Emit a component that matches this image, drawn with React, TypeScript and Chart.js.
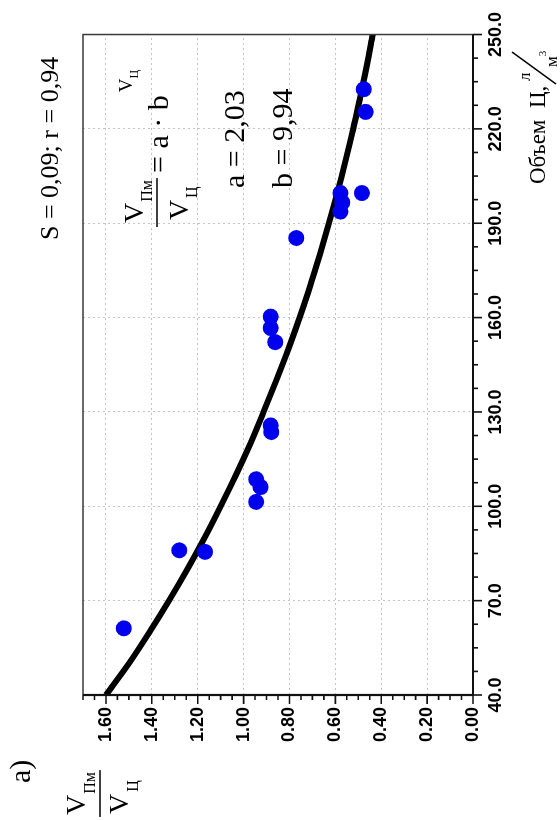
import React, { useEffect, useRef } from 'react';
import { Chart, registerables } from 'chart.js';

Chart.register(...registerables);

// Measured points: cement volume (л/м³) vs ratio V_Пм / V_Ц
const volume = [61.2, 85.5, 86.0, 101.4, 106.1, 108.6, 123.6, 125.7, 152.2, 156.7, 160.3, 185.3, 193.7, 196.6, 199.6, 199.6, 225.4, 232.6];
const ratio = [1.522, 1.168, 1.28, 0.945, 0.926, 0.945, 0.879, 0.882, 0.862, 0.882, 0.882, 0.77, 0.578, 0.57, 0.578, 0.484, 0.468, 0.476];

// Regression curve
const curveVolume = [40, 50, 60, 70, 80, 90, 100, 110, 120, 130, 140, 150, 160, 170, 180, 190, 200, 210, 220, 230, 240, 250];
const curveRatio = [1.6, 1.5, 1.41, 1.325, 1.245, 1.17, 1.1, 1.033, 0.97, 0.913, 0.858, 0.805, 0.756, 0.71, 0.668, 0.628, 0.59, 0.555, 0.522, 0.492, 0.463, 0.437];

// Axis settings
const xMin = 40;
const xMax = 250;
const xMajor = 30;
const xMinor = 7.5;
const yMin = 0;
const yMax = 1.7;
const yMajor = 0.2;
const yMinor = 0.05;
const yLabelMax = 1.6;

const SERIF = '"Liberation Serif", "Times New Roman", serif';
const SANS = '"Liberation Sans", Arial, sans-serif';

const isMajorX = (v: number) => Math.abs((v - xMin) / xMajor - Math.round((v - xMin) / xMajor)) < 1e-6;
const isMajorY = (v: number) => Math.abs(v / yMajor - Math.round(v / yMajor)) < 1e-6;

function txt(ctx: CanvasRenderingContext2D, s: string, x: number, y: number, size: number, family = SERIF, weight = 'normal') {
  ctx.font = `${weight} ${size}px ${family}`;
  ctx.textAlign = 'left';
  ctx.textBaseline = 'alphabetic';
  ctx.fillText(s, x, y);
  return x + ctx.measureText(s).width;
}

const decorPlugin = {
  id: 'decor',
  afterDraw(chart: any) {
    const { ctx, chartArea: a, scales } = chart;
    const xs = scales.x;
    const ys = scales.y;
    ctx.save();
    // frame (top and right)
    ctx.strokeStyle = '#3a3a3a';
    ctx.lineWidth = 1.5;
    ctx.beginPath();
    ctx.moveTo(a.left, a.top);
    ctx.lineTo(a.right, a.top);
    ctx.lineTo(a.right, a.bottom);
    ctx.stroke();
    // axes
    ctx.strokeStyle = '#111';
    ctx.lineWidth = 2.2;
    ctx.beginPath();
    ctx.moveTo(a.left, a.top);
    ctx.lineTo(a.left, a.bottom);
    ctx.lineTo(a.right, a.bottom);
    ctx.stroke();
    // tick marks
    ctx.lineWidth = 1.6;
    ctx.beginPath();
    xs.ticks.forEach((t: any) => {
      const p = xs.getPixelForValue(t.value);
      const len = isMajorX(t.value) ? 9 : 5;
      ctx.moveTo(p, a.bottom);
      ctx.lineTo(p, a.bottom + len);
    });
    ys.ticks.forEach((t: any) => {
      const p = ys.getPixelForValue(t.value);
      const len = isMajorY(t.value) ? 9 : 5;
      ctx.moveTo(a.left, p);
      ctx.lineTo(a.left - len, p);
    });
    ctx.stroke();

    ctx.fillStyle = '#000';
    ctx.strokeStyle = '#000';
    ctx.lineWidth = 1.4;

    // statistics
    txt(ctx, 'S = 0,09; r = 0,94', 580, 58, 26);

    // formula inside plot
    const nEnd = txt(ctx, 'V', 597, 143, 28);
    const nsEnd = txt(ctx, 'Пм', nEnd + 1, 152, 16);
    txt(ctx, 'V', 600, 188, 28);
    txt(ctx, 'Ц', 622, 197, 16);
    ctx.beginPath();
    ctx.moveTo(593, 157);
    ctx.lineTo(nsEnd + 2, 157);
    ctx.stroke();
    const eqEnd = txt(ctx, '= a · b', 647, 168, 30);
    const supEnd = txt(ctx, 'V', eqEnd + 3, 132, 19);
    txt(ctx, 'Ц', supEnd, 138, 12);

    txt(ctx, 'a = 2,03', 632, 244, 30);
    txt(ctx, 'b = 9,94', 632, 292, 30);

    // panel letter and y title
    txt(ctx, 'a)', 37, 30, 30);
    const tEnd = txt(ctx, 'V', 5, 85, 28);
    const tsEnd = txt(ctx, 'Пм', tEnd + 1, 95, 16);
    ctx.beginPath();
    ctx.moveTo(3, 100);
    ctx.lineTo(tsEnd + 2, 100);
    ctx.stroke();
    const bEnd = txt(ctx, 'V', 6, 128, 28);
    txt(ctx, 'Ц', bEnd + 2, 138, 16);

    // x title
    txt(ctx, 'Объем  Ц,', 636, 545, 23);
    txt(ctx, 'л', 739, 530, 17);
    ctx.beginPath();
    ctx.moveTo(736, 556);
    ctx.lineTo(768, 512);
    ctx.stroke();
    const mEnd = txt(ctx, 'м', 753, 557, 17);
    txt(ctx, '3', mEnd, 546, 11);
    ctx.restore();
  },
};

export default function App() {
  const ref = useRef<HTMLCanvasElement | null>(null);
  useEffect(() => {
    if (!ref.current) return;
    const chart = new Chart(ref.current, {
      type: 'scatter',
      data: {
        datasets: [
          {
            label: 'points',
            data: volume.map((v, i) => ({ x: v, y: ratio[i] })),
            backgroundColor: '#0000ee',
            borderColor: '#0000ee',
            pointRadius: 8,
            pointBorderWidth: 0,
            order: 1,
          },
          {
            type: 'line',
            label: 'fit',
            data: curveVolume.map((v, i) => ({ x: v, y: curveRatio[i] })),
            borderColor: '#000',
            borderWidth: 6,
            pointRadius: 0,
            fill: false,
            showLine: true,
            cubicInterpolationMode: 'monotone',
            order: 2,
          } as any,
        ],
      },
      options: {
        responsive: false,
        animation: false,
        layout: { padding: { left: 0, right: 34, top: 83, bottom: 0 } },
        plugins: { legend: { display: false }, tooltip: { enabled: false } },
        scales: {
          x: {
            type: 'linear',
            min: xMin,
            max: xMax,
            afterFit: (s: any) => { s.height = 87; },
            border: { display: false, dash: [2, 3] },
            grid: {
              drawTicks: false,
              lineWidth: 1,
              color: (c: any) => {
                const v = c.tick ? c.tick.value : 0;
                return isMajorX(v) && v > xMin && v < xMax ? '#c4c4c4' : 'rgba(0,0,0,0)';
              },
            },
            ticks: {
              stepSize: xMinor,
              autoSkip: false,
              maxRotation: 0,
              minRotation: 0,
              padding: 12,
              color: '#000',
              font: { family: SANS, size: 18, weight: 'bold' },
              callback: (v: any) => (isMajorX(Number(v)) ? Number(v).toFixed(1) : ''),
            },
          },
          y: {
            type: 'linear',
            min: yMin,
            max: yMax,
            afterFit: (s: any) => { s.width = 125; },
            border: { display: false, dash: [2, 3] },
            grid: {
              drawTicks: false,
              lineWidth: 1,
              color: (c: any) => {
                const v = c.tick ? c.tick.value : 0;
                return isMajorY(v) && v > yMin && v <= yLabelMax + 1e-6 ? '#c4c4c4' : 'rgba(0,0,0,0)';
              },
            },
            ticks: {
              stepSize: yMinor,
              autoSkip: false,
              padding: 12,
              color: '#000',
              font: { family: SANS, size: 18, weight: 'bold' },
              callback: (v: any) => {
                const n = Number(v);
                return isMajorY(n) && n <= yLabelMax + 1e-6 ? n.toFixed(2) : '';
              },
            },
          },
        },
      },
      plugins: [decorPlugin],
    });
    return () => chart.destroy();
  }, []);

  return (
    <div style={{ position: 'fixed', left: 0, top: 0, width: 560, height: 820, overflow: 'hidden', background: '#fff' }}>
      <div
        style={{
          position: 'absolute',
          left: 0,
          top: 0,
          width: 820,
          height: 560,
          transformOrigin: '0 0',
          transform: 'translate(0px, 820px) rotate(-90deg)',
        }}
      >
        <canvas ref={ref} width={820} height={560} style={{ display: 'block', width: 820, height: 560 }} />
      </div>
    </div>
  );
}
